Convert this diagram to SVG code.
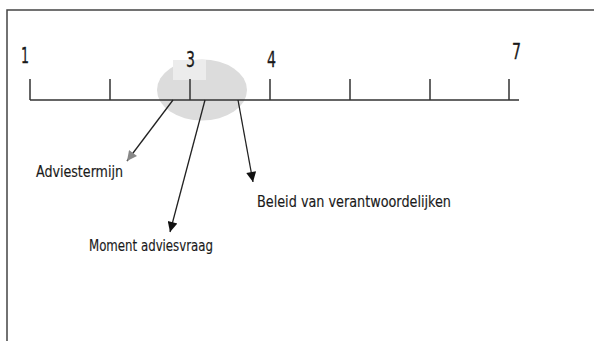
<svg xmlns="http://www.w3.org/2000/svg" width="594" height="341" viewBox="0 0 594 341">
<style>
.frame{stroke:#444;stroke-width:1.5;fill:none}
.axis{stroke:#333;stroke-width:1.5;fill:none}
.num{font-family:"DejaVu Sans Condensed","DejaVu Sans",sans-serif;font-size:21px;fill:#1a1a1a;stroke:#1a1a1a;stroke-width:0.3}
.lbl{font-family:"DejaVu Sans Condensed","DejaVu Sans",sans-serif;font-size:16px;fill:#1a1a1a;stroke:#1a1a1a;stroke-width:0.15}
.conn{stroke:#222;stroke-width:1.3;fill:none}
</style>
<defs>
<marker id="ah" viewBox="0 0 10 10" refX="10" refY="5" markerWidth="13" markerHeight="10" markerUnits="userSpaceOnUse" orient="auto">
<path d="M0,0 L10,5 L0,10 z" fill="#111"/>
</marker>
<marker id="ahg" viewBox="0 0 10 10" refX="10" refY="5" markerWidth="12" markerHeight="10" markerUnits="userSpaceOnUse" orient="auto">
<path d="M0,0 L10,5 L0,10 z" fill="#888"/>
</marker>
</defs>
<rect width="594" height="341" fill="#fff"/>
<path class="frame" d="M7,341 V10 H594"/>
<g id="highlight">
<ellipse cx="202" cy="90" rx="45" ry="30.5" fill="#dcdcdc"/>
<rect x="173" y="60" width="33" height="20" fill="#ececec"/>
</g>
<g id="axis">
<path class="axis" d="M30,100 H519 M30,79 V100 M110,79 V100 M190,79 V100 M270,79 V100 M350,79 V100 M430,79 V100 M509,79 V100"/>
<text class="num" x="21" y="63" textLength="8" lengthAdjust="spacingAndGlyphs">1</text>
<text class="num" x="186" y="67" textLength="9" lengthAdjust="spacingAndGlyphs">3</text>
<text class="num" x="267" y="67" textLength="9" lengthAdjust="spacingAndGlyphs">4</text>
<text class="num" x="512" y="59" textLength="9" lengthAdjust="spacingAndGlyphs">7</text>
</g>
<g id="connectors">
<line class="conn" x1="173" y1="100" x2="127" y2="161" marker-end="url(#ahg)"/>
<line class="conn" x1="205" y1="100" x2="170" y2="232" marker-end="url(#ah)"/>
<line class="conn" x1="238" y1="100" x2="253" y2="182" marker-end="url(#ah)"/>
</g>
<g id="n-adviestermijn"><text class="lbl" x="36" y="177" textLength="87" lengthAdjust="spacingAndGlyphs">Adviestermijn</text></g>
<g id="n-moment"><text class="lbl" x="89" y="251" textLength="124" lengthAdjust="spacingAndGlyphs">Moment adviesvraag</text></g>
<g id="n-beleid"><text class="lbl" x="257" y="207" textLength="194" lengthAdjust="spacingAndGlyphs">Beleid van verantwoordelijken</text></g>
</svg>
